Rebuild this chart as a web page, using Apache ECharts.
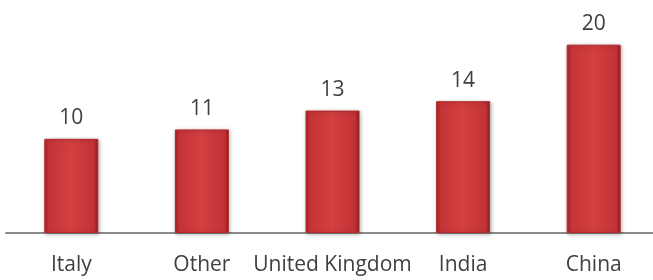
<!DOCTYPE html>
<html>
<head>
<meta charset="utf-8">
<script src="https://cdn.jsdelivr.net/npm/echarts@6/dist/echarts.min.js"></script>
<style>html,body{margin:0;padding:0;background:#fff;overflow:hidden;}#c{width:659px;height:280px;}</style>
</head>
<body>
<div id="c"></div>
<script>
var categories = ["Italy", "Other", "United Kingdom", "India", "China"];
var values = [10, 11, 13, 14, 20];

var chart = echarts.init(document.getElementById('c'), null, {renderer: 'canvas'});
chart.setOption({
  animation: false,
  grid: {left: 6, top: 7, right: 0, bottom: 47, containLabel: false},
  xAxis: {
    type: 'category',
    data: categories,
    axisLine: {lineStyle: {color: '#8c8c8c', width: 2}},
    axisTick: {show: false},
    axisLabel: {color: '#404040', fontSize: 21, fontFamily: '"Open Sans", sans-serif', margin: 22, interval: 0}
  },
  yAxis: {
    type: 'value', min: 0, max: 24,
    show: false,
    splitLine: {show: false}
  },
  series: [{
    type: 'bar',
    data: values,
    barWidth: 54,
    label: {
      show: true, position: 'top', distance: 10,
      color: '#404040', fontSize: 21, fontFamily: '"Open Sans", sans-serif'
    },
    itemStyle: {
      color: new echarts.graphic.LinearGradient(0, 0, 1, 0, [
        {offset: 0, color: '#a82326'},
        {offset: 0.08, color: '#c63437'},
        {offset: 0.5, color: '#d43f40'},
        {offset: 0.92, color: '#c23235'},
        {offset: 1, color: '#8e1c1f'}
      ]),
      borderColor: '#b3292c',
      borderWidth: 1,
      shadowColor: 'rgba(0,0,0,0.3)',
      shadowBlur: 4,
      shadowOffsetX: 1,
      shadowOffsetY: 1
    }
  }]
});
</script>
</body>
</html>
